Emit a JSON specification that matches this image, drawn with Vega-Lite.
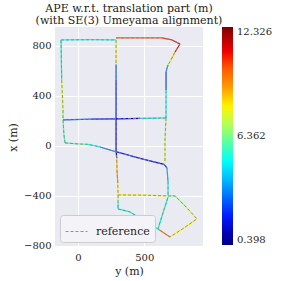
{
  "$schema": "https://vega.github.io/schema/vega-lite/v6.json",
  "width": 148,
  "height": 220,
  "autosize": {"type": "none"},
  "padding": {"left": 55, "top": 27, "right": 78, "bottom": 34},
  "background": "white",
  "config": {
    "font": "DejaVu Serif",
    "view": {"fill": "#EAEAF2", "stroke": null},
    "axis": {
      "grid": true, "gridColor": "white", "gridWidth": 1,
      "domain": false, "ticks": false,
      "labelFont": "DejaVu Serif", "labelFontSize": 10, "labelColor": "#262626",
      "titleFont": "DejaVu Serif", "titleFontSize": 11, "titleFontWeight": "normal", "titleColor": "#262626"
    }
  },
  "title": {
    "text": ["APE w.r.t. translation part (m)", "(with SE(3) Umeyama alignment)"],
    "font": "DejaVu Serif", "fontSize": 11, "fontWeight": "normal", "color": "#1a1a1a",
    "anchor": "middle", "frame": "group", "offset": 1, "lineHeight": 12
  },
  "data": {
    "values": [
      {"p": 1, "i": 1, "h": -98, "v": 22, "e": 5.8},
      {"p": 1, "i": 2, "h": 0, "v": 14, "e": 6.2},
      {"p": 1, "i": 3, "h": 75, "v": 11, "e": 5},
      {"p": 1, "i": 4, "h": 166, "v": -10, "e": 3},
      {"p": 1, "i": 5, "h": 279, "v": -46, "e": 2},
      {"p": 1, "i": 6, "h": 468, "v": -102, "e": 1.8},
      {"p": 1, "i": 7, "h": 649, "v": -150, "e": 2.2},
      {"p": 1, "i": 8, "h": 671, "v": -178, "e": 4},
      {"p": 1, "i": 9, "h": 679, "v": -290, "e": 4.8},
      {"p": 1, "i": 10, "h": 679, "v": -402, "e": 5.5},
      {"p": 2, "i": 1, "h": -98, "v": 22, "e": 5.8},
      {"p": 2, "i": 2, "h": -106, "v": 86, "e": 6},
      {"p": 2, "i": 3, "h": -113, "v": 206, "e": 6.8},
      {"p": 2, "i": 4, "h": -113, "v": 286, "e": 7.5},
      {"p": 2, "i": 5, "h": -123, "v": 526, "e": 5.5},
      {"p": 2, "i": 6, "h": -128, "v": 846, "e": 5},
      {"p": 3, "i": 1, "h": -128, "v": 846, "e": 5},
      {"p": 3, "i": 2, "h": 100, "v": 848, "e": 5.2},
      {"p": 3, "i": 3, "h": 287, "v": 846, "e": 5.3},
      {"p": 4, "i": 1, "h": 287, "v": 846, "e": 7.5},
      {"p": 4, "i": 2, "h": 287, "v": 766, "e": 8},
      {"p": 4, "i": 3, "h": 287, "v": 650, "e": 3},
      {"p": 4, "i": 4, "h": 287, "v": 526, "e": 2},
      {"p": 4, "i": 5, "h": 287, "v": 214, "e": 1.5},
      {"p": 4, "i": 6, "h": 287, "v": -34, "e": 1.5},
      {"p": 4, "i": 7, "h": 292, "v": -100, "e": 8.5},
      {"p": 4, "i": 8, "h": 294, "v": -194, "e": 9},
      {"p": 4, "i": 9, "h": 300, "v": -300, "e": 8},
      {"p": 4, "i": 10, "h": 302, "v": -394, "e": 7},
      {"p": 4, "i": 11, "h": 302, "v": -450, "e": 5},
      {"p": 4, "i": 12, "h": 302, "v": -506, "e": 5},
      {"p": 5, "i": 1, "h": 287, "v": 862, "e": 10},
      {"p": 5, "i": 2, "h": 634, "v": 862, "e": 10.5},
      {"p": 5, "i": 3, "h": 709, "v": 846, "e": 11},
      {"p": 5, "i": 4, "h": 769, "v": 814, "e": 11},
      {"p": 5, "i": 5, "h": 732, "v": 750, "e": 8.5},
      {"p": 5, "i": 6, "h": 701, "v": 686, "e": 7},
      {"p": 5, "i": 7, "h": 679, "v": 646, "e": 3.5},
      {"p": 5, "i": 8, "h": 664, "v": 590, "e": 2.5},
      {"p": 5, "i": 9, "h": 664, "v": 446, "e": 5},
      {"p": 5, "i": 10, "h": 664, "v": 222, "e": 5.5},
      {"p": 6, "i": 1, "h": -113, "v": 206, "e": 3},
      {"p": 6, "i": 2, "h": 100, "v": 212, "e": 2},
      {"p": 6, "i": 3, "h": 287, "v": 214, "e": 1.8},
      {"p": 6, "i": 4, "h": 468, "v": 218, "e": 4.5},
      {"p": 6, "i": 5, "h": 600, "v": 221, "e": 5.5},
      {"p": 6, "i": 6, "h": 664, "v": 222, "e": 7},
      {"p": 7, "i": 1, "h": 664, "v": 222, "e": 7},
      {"p": 7, "i": 2, "h": 656, "v": 46, "e": 7.5},
      {"p": 7, "i": 3, "h": 656, "v": -138, "e": 7},
      {"p": 8, "i": 1, "h": 302, "v": -394, "e": 8},
      {"p": 8, "i": 2, "h": 500, "v": -396, "e": 8},
      {"p": 8, "i": 3, "h": 679, "v": -402, "e": 7.5},
      {"p": 9, "i": 1, "h": 679, "v": -402, "e": 6},
      {"p": 9, "i": 2, "h": 732, "v": -402, "e": 6.5},
      {"p": 9, "i": 3, "h": 815, "v": -490, "e": 7.5},
      {"p": 9, "i": 4, "h": 897, "v": -586, "e": 8},
      {"p": 9, "i": 5, "h": 799, "v": -658, "e": 8},
      {"p": 9, "i": 6, "h": 694, "v": -730, "e": 9.5},
      {"p": 9, "i": 7, "h": 603, "v": -666, "e": 5.5},
      {"p": 9, "i": 8, "h": 679, "v": -410, "e": 5},
      {"p": 10, "i": 1, "h": 302, "v": -506, "e": 5.5},
      {"p": 10, "i": 2, "h": 392, "v": -530, "e": 5.5},
      {"p": 10, "i": 3, "h": 603, "v": -666, "e": 5}
    ]
  },
  "layer": [
    {
      "transform": [
        {"window": [{"op": "lead", "field": "h", "as": "h2"}, {"op": "lead", "field": "v", "as": "v2"}], "groupby": ["p"], "sort": [{"field": "i"}]},
        {"filter": "datum.h2 != null"}
      ],
      "mark": {"type": "rule", "strokeWidth": 1.2},
      "encoding": {
        "x": {"field": "h", "type": "quantitative", "scale": {"domain": [-173.5, 942.7], "nice": false, "zero": false},
              "axis": {"values": [0, 500], "title": "y (m)", "labelPadding": 5, "titlePadding": 3}},
        "y": {"field": "v", "type": "quantitative", "scale": {"domain": [-810.4, 949.6], "nice": false, "zero": false},
              "axis": {"values": [-800, -600, -400, -200, 0, 200, 400, 600, 800], "title": "x (m)", "labelPadding": 4, "titlePadding": 5}},
        "x2": {"field": "h2"},
        "y2": {"field": "v2"},
        "color": {
          "field": "e", "type": "quantitative",
          "scale": {"domain": [0.398, 12.326], "range": ["#00007f", "#0000ff", "#0080ff", "#00ffff", "#80ff80", "#ffff00", "#ff8000", "#ff0000", "#7f0000"]},
          "legend": {"orient": "right", "offset": 19, "title": null, "gradientLength": 218, "gradientThickness": 11,
                     "values": [0.398, 6.362, 12.326], "format": ".3f", "labelFont": "DejaVu Serif", "labelFontSize": 10,
                     "labelColor": "#262626", "labelOffset": 4, "gradientStrokeWidth": 0, "labelOverlap": false,
                     "labelBaseline": "middle"}
        }
      }
    },
    {
      "mark": {"type": "line", "strokeWidth": 1, "color": "#888888", "opacity": 0.9},
      "encoding": {
        "x": {"field": "h", "type": "quantitative"},
        "y": {"field": "v", "type": "quantitative"},
        "detail": {"field": "p"},
        "order": {"field": "i"},
        "strokeDash": {
          "datum": "reference",
          "scale": {"range": [[3, 2]]},
          "legend": {"orient": "bottom-left", "offset": 5, "title": null, "fillColor": "#f4f4f8", "strokeColor": "#cccccc",
                     "cornerRadius": 3, "padding": 5, "symbolType": "stroke", "symbolSize": 480, "symbolStrokeColor": "#888888",
                     "symbolStrokeWidth": 1, "labelFont": "DejaVu Serif", "labelFontSize": 11, "labelColor": "#262626", "labelOffset": 8}
        }
      }
    }
  ]
}
